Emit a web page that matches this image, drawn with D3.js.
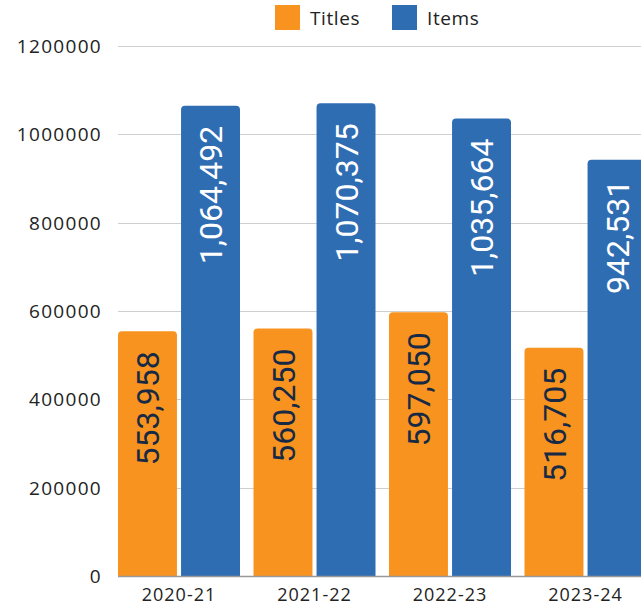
<!DOCTYPE html>
<html>
<head>
<meta charset="utf-8">
<script src="https://cdn.jsdelivr.net/npm/d3@7"></script>
<style>
  body { margin: 0; background: #fff; overflow: hidden; }
  svg { display: block; }
</style>
</head>
<body>
<div id="chart"></div>
<script>
var years = ["2020-21", "2021-22", "2022-23", "2023-24"];
var titles = [553958, 560250, 597050, 516705];
var items = [1064492, 1070375, 1035664, 942531];
var seriesNames = ["Titles", "Items"];
var seriesColors = ["#f7931e", "#2f6db3"];
var labelColors = ["#172a45", "#ffffff"];
var yTicks = [0, 200000, 400000, 600000, 800000, 1000000, 1200000];

var width = 641, height = 608;
var plotLeft = 118, plotTop = 46, plotBottom = 576;
var step = 135.5, groupW = 122;

var svg = d3.select("#chart").append("svg")
    .attr("width", width)
    .attr("height", height);

// the last group runs past the right edge, like the original
var x0 = d3.scaleBand()
    .domain(years)
    .range([plotLeft, plotLeft + years.length * step - (step - groupW)])
    .paddingInner((step - groupW) / step)
    .paddingOuter(0);

var x1 = d3.scaleBand()
    .domain(seriesNames)
    .range([0, x0.bandwidth()])
    .paddingInner(0.065);

var y = d3.scaleLinear()
    .domain([0, 1200000])
    .range([plotBottom, plotTop]);

var tickFont = "'Open Sans', sans-serif";

// gridlines
svg.append("g")
    .selectAll("line")
    .data(yTicks.slice(1))
    .enter().append("line")
    .attr("x1", plotLeft).attr("x2", width)
    .attr("y1", function (d) { return Math.round(y(d)) + 0.5; })
    .attr("y2", function (d) { return Math.round(y(d)) + 0.5; })
    .attr("stroke", "#cfcfcf")
    .attr("stroke-width", 1);

// y tick labels
svg.append("g")
    .selectAll("text")
    .data(yTicks)
    .enter().append("text")
    .attr("x", 102)
    .attr("y", function (d) { return y(d); })
    .attr("dy", "0.36em")
    .attr("text-anchor", "end")
    .style("font-family", tickFont)
    .style("font-size", "19px")
    .style("letter-spacing", "1.3px")
    .style("fill", "#222")
    .text(function (d) { return d; });

var rows = years.map(function (yr, i) {
    return { year: yr, values: [titles[i], items[i]] };
});

function roundTop(xp, yp, w, h, r) {
    return "M" + xp + "," + (yp + h) +
        "V" + (yp + r) +
        "Q" + xp + "," + yp + " " + (xp + r) + "," + yp +
        "H" + (xp + w - r) +
        "Q" + (xp + w) + "," + yp + " " + (xp + w) + "," + (yp + r) +
        "V" + (yp + h) + "Z";
}

var groups = svg.selectAll(".grp")
    .data(rows)
    .enter().append("g")
    .attr("class", "grp")
    .attr("transform", function (d) { return "translate(" + x0(d.year) + ",0)"; });

var bars = groups.selectAll(".bar")
    .data(function (d) {
        return d.values.map(function (v, k) { return { name: seriesNames[k], k: k, value: v }; });
    })
    .enter().append("g")
    .attr("class", "bar");

bars.append("path")
    .attr("d", function (d) {
        return roundTop(x1(d.name), y(d.value), x1.bandwidth(), plotBottom - y(d.value), 4);
    })
    .attr("fill", function (d) { return seriesColors[d.k]; });

bars.append("text")
    .attr("transform", function (d) {
        return "translate(" + (x1(d.name) + x1.bandwidth() / 2) + "," + (y(d.value) + 20) + ") rotate(-90)";
    })
    .attr("dy", "0.36em")
    .attr("text-anchor", "end")
    .style("font-family", "Roboto, sans-serif")
    .style("font-size", "32px")
    .style("fill", function (d) { return labelColors[d.k]; })
    .text(function (d) { return d3.format(",")(d.value); });

// x axis baseline
svg.append("line")
    .attr("x1", plotLeft).attr("x2", width)
    .attr("y1", plotBottom + 0.5).attr("y2", plotBottom + 0.5)
    .attr("stroke", "#999")
    .attr("stroke-width", 1.5);

// x labels
svg.append("g")
    .selectAll("text")
    .data(rows)
    .enter().append("text")
    .attr("x", function (d) { return x0(d.year) + x0.bandwidth() / 2; })
    .attr("y", 595)
    .attr("dy", "0.36em")
    .attr("text-anchor", "middle")
    .style("font-family", tickFont)
    .style("font-size", "18px")
    .style("letter-spacing", "1px")
    .style("fill", "#222")
    .text(function (d) { return d.year; });

// legend
var legend = svg.append("g")
    .selectAll("g")
    .data(seriesNames)
    .enter().append("g")
    .attr("transform", function (d, i) { return "translate(" + [275, 392][i] + ",5)"; });

legend.append("rect")
    .attr("width", 25).attr("height", 25)
    .attr("fill", function (d, i) { return seriesColors[i]; });

legend.append("text")
    .attr("x", 35)
    .attr("y", 13)
    .attr("dy", "0.36em")
    .style("font-family", tickFont)
    .style("font-size", "19px")
    .style("letter-spacing", "0.6px")
    .style("fill", "#222")
    .text(function (d) { return d; });
</script>
</body>
</html>
